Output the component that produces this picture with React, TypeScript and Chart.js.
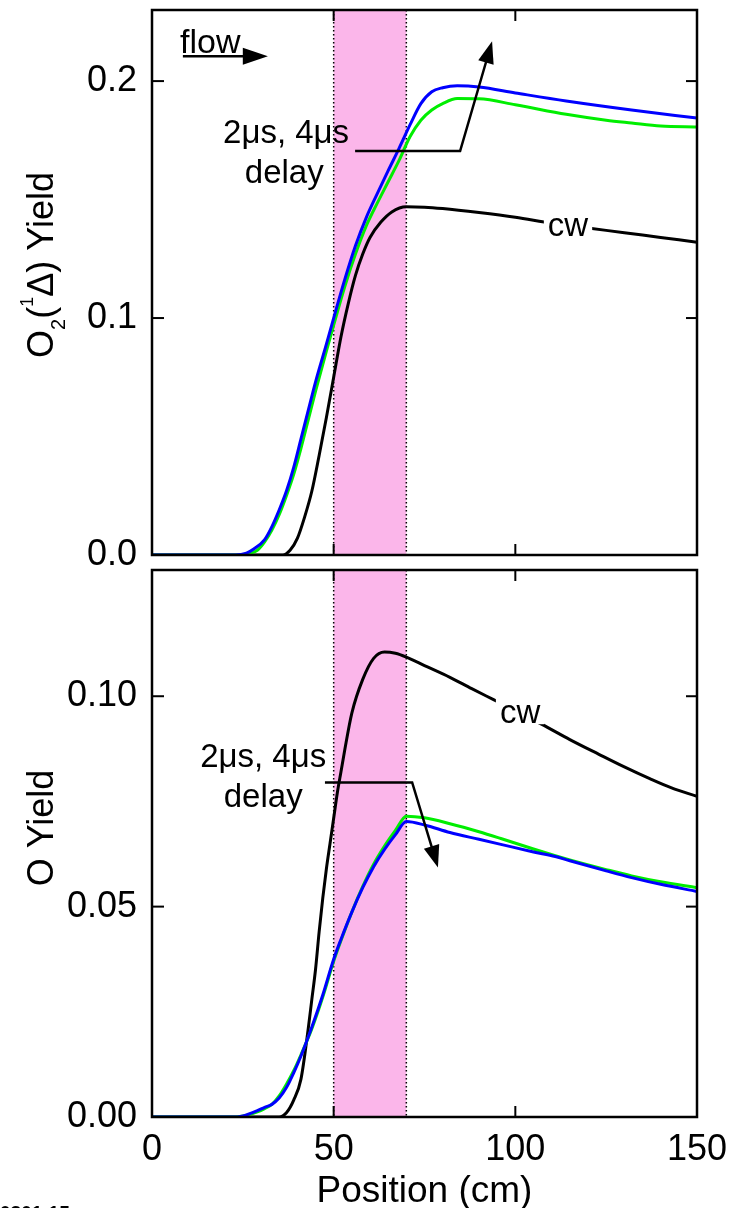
import React, { useEffect, useRef } from 'react';
import { Chart, registerables } from 'chart.js';
Chart.register(...registerables);

const FONT = "'Liberation Sans', Arial, Helvetica, sans-serif";

// ---------- Top panel: O2(1Δ) yield ----------
const topBlueX = [0, 23, 26, 28, 31, 33, 35, 37, 39, 41, 43, 45, 48, 50, 53, 56, 59, 62, 65, 68, 71, 74, 77, 80, 84, 90, 100, 114, 132, 150];
const topBlueY = [0, 0, 0.0008, 0.0025, 0.0065, 0.012, 0.019, 0.027, 0.037, 0.049, 0.061, 0.073, 0.089, 0.1, 0.116, 0.1305, 0.1425, 0.1525, 0.1622, 0.1716, 0.1815, 0.1905, 0.1955, 0.1972, 0.198, 0.1975, 0.195, 0.1916, 0.1878, 0.1844];

const topGreenX = [0, 24, 27, 29, 31, 33, 35, 37, 39, 41, 43, 45, 48, 50, 53, 56, 59, 62, 65, 68, 71, 74, 77, 80, 84, 90, 100, 114, 125, 132, 140, 150];
const topGreenY = [0, 0, 0.0008, 0.002, 0.0055, 0.0105, 0.017, 0.025, 0.034, 0.045, 0.057, 0.069, 0.086, 0.097, 0.113, 0.127, 0.139, 0.1485, 0.1575, 0.1665, 0.1765, 0.1835, 0.1878, 0.1905, 0.1926, 0.1925, 0.19, 0.186, 0.1835, 0.1823, 0.181, 0.1806];

const topBlackX = [0, 36, 38, 40, 42, 44, 46, 48, 50, 52, 54, 56, 58, 60, 63, 66, 70, 75, 80, 90, 100, 110, 120, 130, 140, 150];
const topBlackY = [0, 0, 0.002, 0.007, 0.016, 0.027, 0.042, 0.058, 0.075, 0.092, 0.106, 0.118, 0.127, 0.134, 0.1405, 0.1448, 0.147, 0.1468, 0.1462, 0.1445, 0.1425, 0.140, 0.138, 0.136, 0.134, 0.132];

// ---------- Bottom panel: O yield ----------
const botBlueX = [0, 23, 26, 29, 31, 33, 35, 37, 39, 41, 44, 47, 50, 52, 55, 58, 61, 64, 67, 70, 75, 82, 90, 96, 105, 111, 115, 125, 132, 140, 150];
const botBlueY = [0, 0, 0.0005, 0.0015, 0.0023, 0.003, 0.0045, 0.007, 0.0105, 0.0145, 0.0214, 0.029, 0.0375, 0.0422, 0.0487, 0.0545, 0.0595, 0.0636, 0.0671, 0.0702, 0.0694, 0.0676, 0.066, 0.0648, 0.063, 0.0619, 0.0609, 0.0585, 0.0569, 0.0553, 0.0536];

const botGreenX = [0, 23, 26, 29, 31, 33, 35, 37, 39, 41, 44, 47, 50, 52, 55, 58, 61, 64, 67, 70, 75, 82, 90, 96, 105, 111, 115, 125, 132, 140, 150];
const botGreenY = [0, 0, 0.0004, 0.0012, 0.002, 0.003, 0.005, 0.0078, 0.011, 0.0148, 0.021, 0.0285, 0.037, 0.0419, 0.0487, 0.0548, 0.0601, 0.0644, 0.0681, 0.0715, 0.0711, 0.0697, 0.0678, 0.0662, 0.0637, 0.0621, 0.0611, 0.0588, 0.0573, 0.0559, 0.0545];

const botBlackX = [0, 35, 37, 39, 41, 43, 44, 45, 46, 47, 48, 49, 50, 51, 52, 53, 55, 58, 61, 64, 67, 70, 75, 82, 88, 94, 100, 108, 115, 123, 130, 137, 143, 150];
const botBlackY = [0, 0, 0.001, 0.004, 0.009, 0.021, 0.028, 0.035, 0.044, 0.052, 0.059, 0.065, 0.071, 0.077, 0.082, 0.087, 0.096, 0.104, 0.109, 0.1105, 0.1102, 0.1093, 0.1073, 0.1045, 0.1018, 0.0992, 0.0966, 0.093, 0.0897, 0.0862, 0.0832, 0.0804, 0.0782, 0.0762];

// ---------- axes ----------
const xTickValues = [0, 50, 100, 150];
const topYTicks = [0, 0.1, 0.2];
const botYTicks = [0, 0.05, 0.1];
const bandRange = [50, 70];

const BLUE = '#0000ff';
const GREEN = '#00ee00';
const BLACK = '#000000';
const PINK = '#fbb6ea';

function pts(xs: number[], ys: number[]) {
  return xs.map((x, i) => ({ x, y: ys[i] }));
}

function ds(label: string, xs: number[], ys: number[], color: string) {
  return {
    label,
    data: pts(xs, ys),
    borderColor: color,
    backgroundColor: color,
    borderWidth: 3,
    pointRadius: 0,
    fill: false,
    cubicInterpolationMode: 'monotone' as const,
  };
}

function line(ctx: CanvasRenderingContext2D, x1: number, y1: number, x2: number, y2: number) {
  ctx.beginPath();
  ctx.moveTo(x1, y1);
  ctx.lineTo(x2, y2);
  ctx.stroke();
}

function arrow(ctx: CanvasRenderingContext2D, p: number[][], headLen: number, headW: number) {
  const n = p.length;
  const [tx, ty] = p[n - 1];
  const [px, py] = p[n - 2];
  const a = Math.atan2(ty - py, tx - px);
  const bx = tx - headLen * Math.cos(a);
  const by = ty - headLen * Math.sin(a);
  ctx.beginPath();
  ctx.moveTo(p[0][0], p[0][1]);
  for (let i = 1; i < n - 1; i++) ctx.lineTo(p[i][0], p[i][1]);
  ctx.lineTo(bx + 2 * Math.cos(a), by + 2 * Math.sin(a));
  ctx.stroke();
  ctx.beginPath();
  ctx.moveTo(tx, ty);
  ctx.lineTo(bx + headW * Math.sin(a), by - headW * Math.cos(a));
  ctx.lineTo(bx - headW * Math.sin(a), by + headW * Math.cos(a));
  ctx.closePath();
  ctx.fill();
}

function rotatedText(ctx: CanvasRenderingContext2D, baseX: number, centerY: number, parts: { t: string; size: number; dy: number }[]) {
  ctx.save();
  let total = 0;
  for (const p of parts) {
    ctx.font = `${p.size}px ${FONT}`;
    total += ctx.measureText(p.t).width;
  }
  ctx.translate(baseX, centerY);
  ctx.rotate(-Math.PI / 2);
  ctx.fillStyle = '#000';
  ctx.textAlign = 'left';
  ctx.textBaseline = 'alphabetic';
  let cx = -total / 2;
  for (const p of parts) {
    ctx.font = `${p.size}px ${FONT}`;
    ctx.fillText(p.t, cx, p.dy);
    cx += ctx.measureText(p.t).width;
  }
  ctx.restore();
}

function cwLabel(ctx: CanvasRenderingContext2D, x: number, y: number) {
  ctx.save();
  ctx.font = `33px ${FONT}`;
  const w = ctx.measureText('cw').width;
  ctx.fillStyle = '#fff';
  ctx.fillRect(x - w / 2 - 4, y - 14, w + 8, 26);
  ctx.fillStyle = '#000';
  ctx.textAlign = 'center';
  ctx.textBaseline = 'middle';
  ctx.fillText('cw', x, y + 2);
  ctx.restore();
}

function decorPlugin(kind: 'top' | 'bot', yTicks: number[]) {
  return {
    id: 'decor_' + kind,
    beforeDatasetsDraw(chart: any) {
      const { ctx, chartArea: a, scales } = chart;
      const x1 = scales.x.getPixelForValue(bandRange[0]);
      const x2 = scales.x.getPixelForValue(bandRange[1]);
      ctx.save();
      ctx.fillStyle = PINK;
      ctx.fillRect(x1, a.top, x2 - x1, a.bottom - a.top);
      ctx.strokeStyle = '#000';
      ctx.lineWidth = 1.5;
      ctx.setLineDash([1.5, 2.5]);
      line(ctx, x1, a.top, x1, a.bottom);
      line(ctx, x2, a.top, x2, a.bottom);
      ctx.restore();
    },
    afterDatasetsDraw(chart: any) {
      const { ctx, chartArea: a, scales } = chart;
      const X = (v: number) => scales.x.getPixelForValue(v);
      const Y = (v: number) => scales.y.getPixelForValue(v);
      ctx.save();
      ctx.strokeStyle = '#000';
      ctx.fillStyle = '#000';
      ctx.lineWidth = 2.5;
      ctx.textAlign = 'center';
      ctx.textBaseline = 'alphabetic';
      ctx.font = `33px ${FONT}`;
      if (kind === 'top') {
        cwLabel(ctx, X(114.5), Y(0.1394));
        // flow
        ctx.textAlign = 'left';
        ctx.font = `34px ${FONT}`;
        ctx.fillText('flow', X(7.7), Y(0.2118));
        ctx.lineWidth = 2.5;
        line(ctx, X(8.5), Y(0.2105), X(25.5), Y(0.2105));
        ctx.beginPath();
        ctx.moveTo(X(25), Y(0.2105) - 8.5);
        ctx.lineTo(X(31.9), Y(0.2105));
        ctx.lineTo(X(25), Y(0.2105) + 8.5);
        ctx.closePath();
        ctx.fill();
        // delay annotation
        ctx.textAlign = 'center';
        ctx.font = `33px ${FONT}`;
        ctx.fillText('2\u03bcs, 4\u03bcs', X(36.9), Y(0.1739));
        ctx.fillText('delay', X(36.4), Y(0.157));
        arrow(ctx, [[X(55.9), Y(0.1705)], [X(84.8), Y(0.1705)], [X(93.6), Y(0.2168)]], 22, 8);
        // y title
        rotatedText(ctx, 53, 265, [
          { t: 'O', size: 36, dy: 0 },
          { t: '2', size: 20, dy: 12 },
          { t: '(', size: 36, dy: 0 },
          { t: '1', size: 18, dy: -20 },
          { t: '\u0394', size: 36, dy: 0 },
          { t: ')', size: 36, dy: 0 },
          { t: ' Yield', size: 36, dy: 0 },
        ]);
      } else {
        cwLabel(ctx, X(101.3), Y(0.0962));
        ctx.fillText('2\u03bcs, 4\u03bcs', X(30.6), Y(0.0831));
        ctx.fillText('delay', X(30.6), Y(0.0736));
        arrow(ctx, [[X(47.6), Y(0.0795)], [X(71.6), Y(0.0795)], [X(78.7), Y(0.0593)]], 22, 8);
        rotatedText(ctx, 53, 828 - 565, [{ t: 'O Yield', size: 36, dy: 0 }]);
        // cropped figure id at bottom-left
        ctx.textAlign = 'left';
        ctx.textBaseline = 'top';
        ctx.font = `bold 19px ${FONT}`;
        ctx.fillText('0301-15', 0, 1204 - 565);
      }
      // frame
      ctx.lineWidth = 2.5;
      ctx.setLineDash([]);
      ctx.strokeRect(a.left, a.top, a.right - a.left, a.bottom - a.top);
      ctx.lineWidth = 2;
      for (const v of xTickValues) {
        const px = X(v);
        if (px <= a.left + 1 || px >= a.right - 1) continue;
        line(ctx, px, a.bottom, px, a.bottom - 11);
        line(ctx, px, a.top, px, a.top + 11);
      }
      for (const v of yTicks) {
        const py = Y(v);
        if (py <= a.top + 1 || py >= a.bottom - 1) continue;
        line(ctx, a.left, py, a.left + 12, py);
        line(ctx, a.right, py, a.right - 11, py);
      }
      ctx.restore();
    },
  };
}

function yScale(max: number, ticks: number[], digits: number) {
  return {
    type: 'linear' as const,
    min: 0,
    max,
    grid: { display: false, drawTicks: false },
    border: { display: false },
    ticks: {
      color: '#000',
      font: { family: FONT, size: 36 },
      padding: 15,
      callback: (v: any) => Number(v).toFixed(digits),
    },
    afterBuildTicks: (s: any) => {
      s.ticks = ticks.map((value) => ({ value }));
    },
    afterFit: (s: any) => {
      s.width = 152;
      s.paddingTop = 0;
      s.paddingBottom = 0;
    },
  };
}

function topConfig(): any {
  return {
    type: 'line',
    data: {
      datasets: [
        ds('2μs delay', topBlueX, topBlueY, BLUE),
        ds('4μs delay', topGreenX, topGreenY, GREEN),
        ds('cw', topBlackX, topBlackY, BLACK),
      ],
    },
    options: {
      responsive: false,
      animation: false,
      devicePixelRatio: 1,
      events: [],
      layout: { padding: { left: 0, right: 35, top: 10, bottom: 10 } },
      plugins: { legend: { display: false }, tooltip: { enabled: false } },
      scales: {
        x: { type: 'linear', min: 0, max: 150, display: false },
        y: yScale(0.23, topYTicks, 1),
      },
    },
    plugins: [decorPlugin('top', topYTicks)],
  };
}

function botConfig(): any {
  return {
    type: 'line',
    data: {
      datasets: [
        ds('2μs delay', botBlueX, botBlueY, BLUE),
        ds('4μs delay', botGreenX, botGreenY, GREEN),
        ds('cw', botBlackX, botBlackY, BLACK),
      ],
    },
    options: {
      responsive: false,
      animation: false,
      devicePixelRatio: 1,
      events: [],
      layout: { padding: { left: 0, right: 35, top: 5, bottom: 0 } },
      plugins: { legend: { display: false }, tooltip: { enabled: false } },
      scales: {
        x: {
          type: 'linear',
          min: 0,
          max: 150,
          grid: { display: false, drawTicks: false },
          border: { display: false },
          ticks: {
            color: '#000',
            font: { family: FONT, size: 36 },
            padding: 11,
            maxRotation: 0,
            autoSkip: false,
          },
          afterBuildTicks: (s: any) => {
            s.ticks = xTickValues.map((value) => ({ value }));
          },
          title: {
            display: true,
            text: 'Position (cm)',
            color: '#000',
            font: { family: FONT, size: 37 },
            padding: { top: 0, bottom: 11 },
          },
          afterFit: (s: any) => {
            s.height = 108;
            s.paddingLeft = 0;
            s.paddingRight = 0;
          },
        },
        y: yScale(0.13, botYTicks, 2),
      },
    },
    plugins: [decorPlugin('bot', botYTicks)],
  };
}

export default function App() {
  const topRef = useRef<HTMLCanvasElement>(null);
  const botRef = useRef<HTMLCanvasElement>(null);
  useEffect(() => {
    const c1 = new Chart(topRef.current as HTMLCanvasElement, topConfig());
    const c2 = new Chart(botRef.current as HTMLCanvasElement, botConfig());
    return () => {
      c1.destroy();
      c2.destroy();
    };
  }, []);
  return (
    <div style={{ position: 'absolute', left: 0, top: 0, width: 732, height: 1208, overflow: 'hidden', background: '#fff' }}>
      <canvas ref={topRef} width={732} height={565} style={{ position: 'absolute', left: 0, top: 0 }} />
      <canvas ref={botRef} width={732} height={660} style={{ position: 'absolute', left: 0, top: 565 }} />
    </div>
  );
}
